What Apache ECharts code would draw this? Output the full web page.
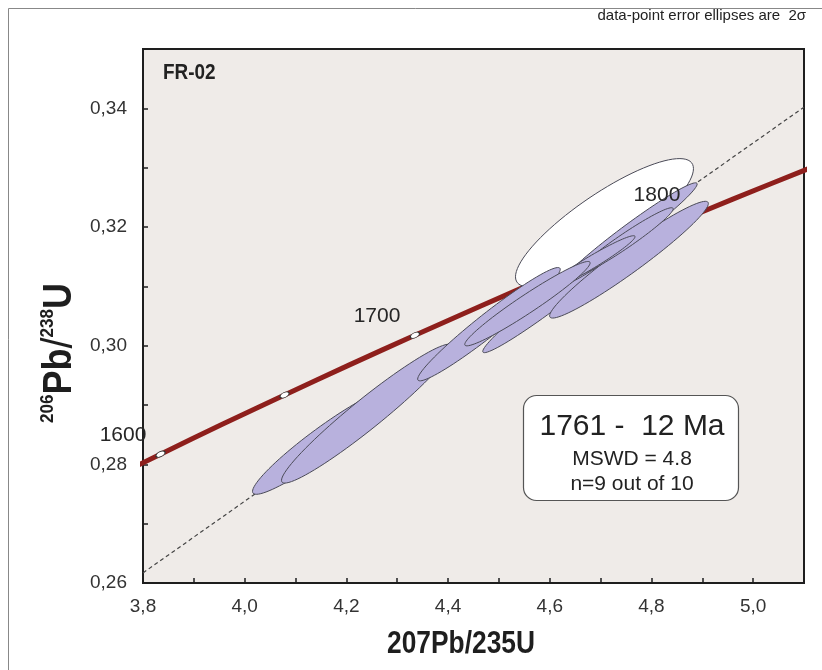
<!DOCTYPE html>
<html><head><meta charset="utf-8">
<script src="https://cdn.jsdelivr.net/npm/echarts@6/dist/echarts.min.js"></script>
<style>html,body{margin:0;padding:0;background:#fff}#c{width:822px;height:670px}</style>
</head><body><div id="c"></div>
<script>
// ---- data ----
const concordiaAge = [1590, 1600, 1625, 1650, 1675, 1700, 1725, 1750, 1775, 1800, 1825, 1840];
const concordiaX = [3.7870, 3.8344, 3.9549, 4.0784, 4.2050, 4.3348, 4.4677, 4.6040, 4.7437, 4.8868, 5.0336, 5.1233];
const concordiaY = [0.27973, 0.28171, 0.28670, 0.29169, 0.29672, 0.30175, 0.30681, 0.31189, 0.31699, 0.32211, 0.32724, 0.33033];
const markerX = [3.8344, 4.0784, 4.3348, 4.6040, 4.8868];
const markerY = [0.28171, 0.29169, 0.30175, 0.31189, 0.32211];
const ageLabels = ['1600', '1700', '1800'];
const ageLabelX = [3.7607, 4.2602, 4.8108];
const ageLabelY = [0.28493, 0.30497, 0.32535];
const discordiaX = [3.8, 5.1];
const discordiaY = [0.2617, 0.3402];
// error ellipses: centre, half-range x, half-range y, correlation, accepted?
const ellX   = [4.7076, 4.1540, 4.2405, 4.4804, 4.6230, 4.7558, 4.7548, 4.7459, 4.6790, 4.5561];
const ellY   = [0.32072, 0.28383, 0.28855, 0.30362, 0.30901, 0.31449, 0.31878, 0.31752, 0.31390, 0.30708];
const ellSX  = [0.1750, 0.1386, 0.1681, 0.1402, 0.1548, 0.1561, 0.1351, 0.0968, 0.0887, 0.1233];
const ellSY  = [0.01081, 0.00888, 0.01171, 0.00955, 0.01019, 0.00984, 0.00867, 0.00573, 0.00463, 0.00711];
const ellRho = [0.843, 0.945, 0.961, 0.968, 0.979, 0.962, 0.976, 0.967, 0.966, 0.966];
const ellAccepted = [0, 1, 1, 1, 1, 1, 1, 1, 1, 1];
const xTickValues = [3.8, 4.0, 4.2, 4.4, 4.6, 4.8, 5.0];
const xTickLabels = ['3,8', '4,0', '4,2', '4,4', '4,6', '4,8', '5,0'];
const yTickValues = [0.26, 0.28, 0.30, 0.32, 0.34];
const yTickLabels = ['0,26', '0,28', '0,30', '0,32', '0,34'];

function lookup(vals, labels, v) {
  for (let i = 0; i < vals.length; i++) if (Math.abs(vals[i] - v) < 1e-6) return labels[i];
  return '';
}
const SANS = "'Liberation Sans', Arial, sans-serif";

const chart = echarts.init(document.getElementById('c'), null, {renderer: 'canvas'});
const option = {
  backgroundColor: '#ffffff',
  animation: false,
  grid: {left: 143, right: 18, top: 49, bottom: 87, show: true, backgroundColor: '#efebe8', borderColor: '#1e1e1e', borderWidth: 2},
  xAxis: {
    type: 'value', min: 3.8, max: 5.1, interval: 0.1,
    axisLine: {show: true, lineStyle: {color: '#1e1e1e', width: 2}},
    axisTick: {show: true, inside: true, length: 5, lineStyle: {color: '#1e1e1e', width: 1.5}},
    splitLine: {show: false},
    axisLabel: {fontFamily: SANS, fontSize: 19, color: '#333', margin: 14,
      formatter: v => lookup(xTickValues, xTickLabels, v)}
  },
  yAxis: {
    type: 'value', min: 0.26, max: 0.35, interval: 0.01,
    axisLine: {show: true, lineStyle: {color: '#1e1e1e', width: 2}},
    axisTick: {show: true, inside: true, length: 5, lineStyle: {color: '#1e1e1e', width: 1.5}},
    splitLine: {show: false},
    axisLabel: {fontFamily: SANS, fontSize: 19, color: '#333', margin: 16,
      formatter: v => lookup(yTickValues, yTickLabels, v)}
  },
  series: [
    {
      type: 'line', z: 2, silent: true, showSymbol: false,
      data: discordiaX.map((x, i) => [x, discordiaY[i]]),
      lineStyle: {color: '#444', width: 1.2, type: [4, 3]}
    },
    {
      type: 'line', z: 3, silent: true, showSymbol: false, smooth: true,
      data: concordiaX.map((x, i) => [x, concordiaY[i]]),
      lineStyle: {color: '#8e1f1c', width: 5}
    },
    {
      type: 'scatter', z: 4, silent: true,
      data: markerX.map((x, i) => [x, markerY[i]]),
      symbol: 'circle', symbolSize: [10, 5], symbolRotate: 26,
      itemStyle: {color: '#ffffff', borderColor: '#333', borderWidth: 1, opacity: 1}
    },
    {
      type: 'custom', z: 5, silent: true, clip: true,
      data: ellX.map((x, i) => [x, ellY[i], ellSX[i], ellSY[i], ellRho[i], ellAccepted[i]]),
      encode: {x: 0, y: 1},
      renderItem: function (params, api) {
        const cx = api.value(0), cy = api.value(1), sx = api.value(2), sy = api.value(3), r = api.value(4), acc = api.value(5);
        const k = Math.sqrt(1 - r * r);
        const pts = [];
        for (let j = 0; j < 90; j++) {
          const t = j / 90 * 2 * Math.PI;
          pts.push(api.coord([cx + sx * Math.cos(t), cy + sy * (r * Math.cos(t) + k * Math.sin(t))]));
        }
        return {type: 'polygon', shape: {points: pts},
          style: {fill: acc ? '#b8b1dd' : '#ffffff', stroke: '#4b4b58', lineWidth: 1}};
      }
    },
    {
      type: 'custom', z: 6, silent: true, clip: false,
      data: ageLabelX.map((x, i) => [x, ageLabelY[i]]),
      encode: {x: 0, y: 1},
      renderItem: function (params, api) {
        const p = api.coord([api.value(0), api.value(1)]);
        return {type: 'text', x: p[0], y: p[1],
          style: {text: ageLabels[params.dataIndex], x: 0, y: 0, align: 'center', verticalAlign: 'middle',
            font: "21px 'Liberation Sans', Arial, sans-serif", fill: '#262626'}};
      }
    }
  ],
  graphic: [
    {type: 'rect', z: -10, shape: {x: 8.5, y: 8.5, width: 830, height: 700},
      style: {fill: 'none', stroke: '#888', lineWidth: 1}},
    {type: 'text', z: 10, x: 806, y: 16,
      style: {text: 'data-point error ellipses are  2σ', x: 0, y: 0, align: 'right', verticalAlign: 'middle',
        font: "15px 'Liberation Sans', sans-serif", fill: '#222'}},
    {type: 'text', z: 10, x: 163, y: 73, scaleX: 0.86,
      style: {text: 'FR-02', x: 0, y: 0, align: 'left', verticalAlign: 'middle',
        font: "bold 22px 'Liberation Sans', sans-serif", fill: '#222'}},
    {type: 'text', z: 10, x: 461, y: 644, scaleX: 0.85,
      style: {text: '207Pb/235U', x: 0, y: 0, align: 'center', verticalAlign: 'middle',
        font: "bold 31px 'Liberation Sans', sans-serif", fill: '#1e1e1e'}},
    {type: 'text', z: 10, x: 60, y: 353, rotation: Math.PI / 2, scaleX: 0.9,
      style: {
        text: '{s|206}{b|Pb}{sl|/}{s|238}{b|U}', align: 'center', verticalAlign: 'middle', fill: '#1e1e1e',
        rich: {
          s: {fontFamily: SANS, fontWeight: 'bold', fontSize: 19, verticalAlign: 'top', padding: [0, 0, 14, 0], fill: '#1e1e1e'},
          b: {fontFamily: SANS, fontWeight: 'bold', fontSize: 40, fill: '#1e1e1e'},
          sl: {fontFamily: SANS, fontWeight: 'normal', fontSize: 44, fill: '#1e1e1e'}
        }
      }},
    {type: 'group', z: 10, children: [
      {type: 'rect', shape: {x: 523.5, y: 395.5, width: 215, height: 105, r: 13},
        style: {fill: '#ffffff', stroke: '#555', lineWidth: 1.2}},
      {type: 'text', style: {text: '1761 -  12 Ma', x: 632, y: 427, align: 'center', verticalAlign: 'middle',
        font: "30px 'Liberation Sans', Arial, sans-serif", fill: '#222'}},
      {type: 'text', style: {text: 'MSWD = 4.8', x: 632, y: 459, align: 'center', verticalAlign: 'middle',
        font: "21px 'Liberation Sans', Arial, sans-serif", fill: '#222'}},
      {type: 'text', style: {text: 'n=9 out of 10', x: 632, y: 484, align: 'center', verticalAlign: 'middle',
        font: "21px 'Liberation Sans', Arial, sans-serif", fill: '#222'}}
    ]}
  ]
};
chart.setOption(option);
</script>
</body></html>
